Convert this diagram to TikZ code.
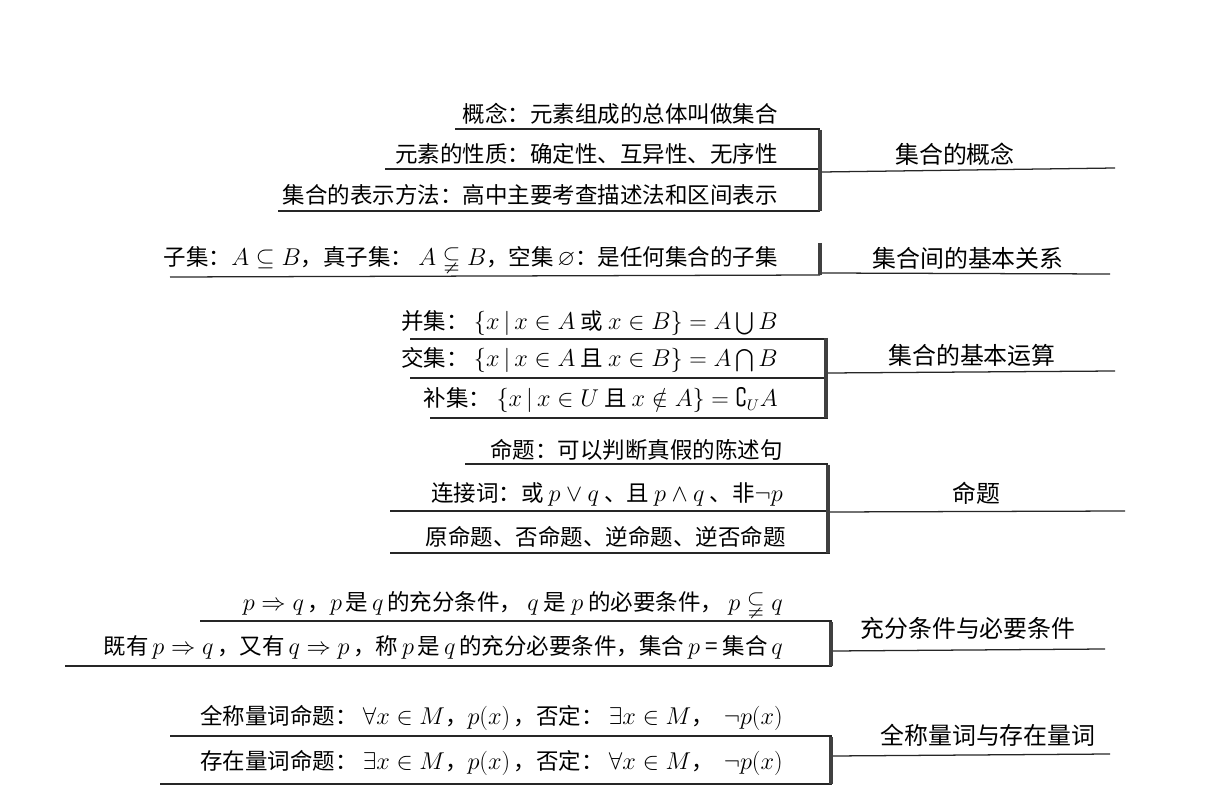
\documentclass[tikz,border=0pt]{standalone}
\usepackage{amsmath}
\usepackage{amssymb}
\usepackage{fontspec}
\setmainfont{Noto Sans CJK SC}
\usetikzlibrary{positioning}

\begin{document}
\begin{tikzpicture}[x=0.025cm, y=-0.025cm]
    % Define styles
    \tikzset{
        item/.style={anchor=east, inner sep=0pt, font=\fontsize{16}{18}\selectfont},
        topic/.style={inner sep=0pt, font=\fontsize{17}{19}\selectfont},
        rule/.style={line width=0.9pt, black!85},
        bar/.style={line width=3.5pt, black!75},
    }
    \useasboundingbox (0,0) rectangle (1213,800);

    % Group 1
    \node [item] (c1) at (778,114) {概念：元素组成的总体叫做集合};
    \node [item] (c2) at (778,154) {元素的性质：确定性、互异性、无序性};
    \node [item] (c3) at (778,195) {集合的表示方法：高中主要考查描述法和区间表示};
    \draw [rule] (455,129) -- (820,129);
    \draw [rule] (385,169) -- (820,169);
    \draw [rule] (278,211) -- (820,211);
    \draw [bar] (820,130) -- (820,211);
    \node [topic] (t1) at (955,154) {集合的概念};
    \draw [rule] (822,172) -- (1115,168);

    % Group 2
    \node [item] (r1) at (778,259) {子集：$A\subseteq B$，真子集：\ $A\subsetneqq B$，空集\,$\varnothing$：是任何集合的子集};
    \draw [rule] (170,277) -- (820,275);
    \draw [bar] (820,243) -- (820,275);
    \node [topic] (t2) at (968,258) {集合间的基本关系};
    \draw [rule] (822,273) -- (1110,274);

    % Group 3
    \node [item] (o1) at (778,323) {并集：\ $\{x\,|\,x\in A$ 或 $x\in B\}=A\bigcup B$};
    \node [item] (o2) at (778,360) {交集：\ $\{x\,|\,x\in A$ 且 $x\in B\}=A\bigcap B$};
    \node [item] (o3) at (778,400) {补集：\ $\{x\,|\,x\in U$ 且 $x\notin A\}=\complement_U A$};
    \draw [rule] (410,339) -- (825,339);
    \draw [rule] (410,378) -- (825,378);
    \draw [rule] (430,418) -- (828,418);
    \draw [bar] (826,338) -- (826,418);
    \node [topic] (t3) at (972,355) {集合的基本运算};
    \draw [rule] (828,373) -- (1115,371);

    % Group 4
    \node [item] (p1) at (783,450) {命题：可以判断真假的陈述句};
    \node [item] (p2) at (783,494) {连接词：或 $p\vee q$ 、且 $p\wedge q$ 、非$\neg p$};
    \node [item] (p3) at (786,537) {原命题、否命题、逆命题、逆否命题};
    \draw [rule] (465,464) -- (828,464);
    \draw [rule] (390,511) -- (828,511);
    \draw [rule] (390,553) -- (830,553);
    \draw [bar] (828,465) -- (828,553);
    \node [topic] (t4) at (976,493) {命题};
    \draw [rule] (830,512) -- (1125,511);

    % Group 5
    \node [item] (s1) at (783,604) {$p\Rightarrow q$\,，$p$\,是\,$q$\,的充分条件，\ $q$ 是 $p$ 的必要条件，\ $p\subsetneqq q$};
    \node [item] (s2) at (783,647) {既有\,$p\Rightarrow q$\,，又有\,$q\Rightarrow p$\,，称\,$p$\,是\,$q$\,的充分必要条件，集合\,$p$ = 集合\,$q$};
    \draw [rule] (200,621) -- (832,621);
    \draw [rule] (65,666) -- (832,666);
    \draw [bar] (831,622) -- (831,666);
    \node [topic] (t5) at (968,628) {充分条件与必要条件};
    \draw [rule] (833,651) -- (1105,649);

    % Group 6
    \node [item] (q1) at (783,718) {全称量词命题：\ $\forall x\in M$，$p(x)$\,，否定：\ $\exists x\in M$，\ \ $\neg p(x)$};
    \node [item] (q2) at (783,763) {存在量词命题：\ $\exists x\in M$，$p(x)$\,，否定：\ $\forall x\in M$，\ \ $\neg p(x)$};
    \draw [rule] (170,736) -- (832,736);
    \draw [rule] (160,784) -- (832,784);
    \draw [bar] (831,737) -- (831,784);
    \node [topic] (t6) at (988,735) {全称量词与存在量词};
    \draw [rule] (833,756) -- (1110,754);
\end{tikzpicture}
\end{document}
